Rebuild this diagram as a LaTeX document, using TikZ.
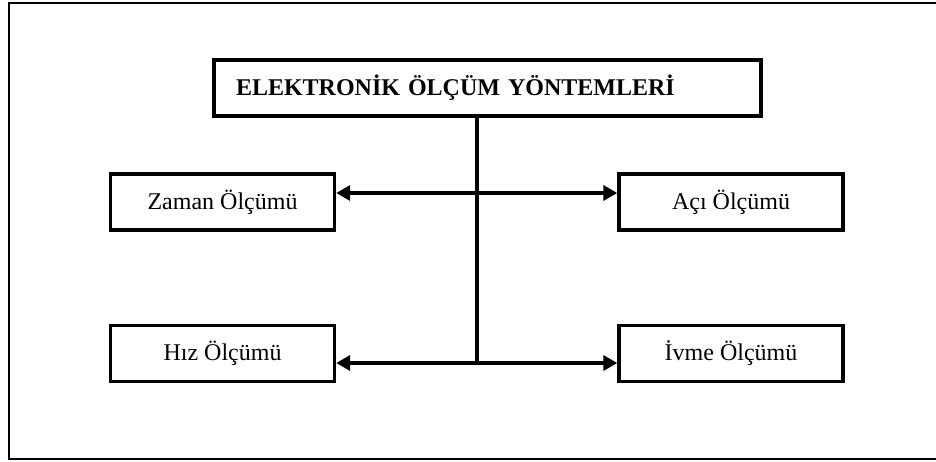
\documentclass[tikz,border=0pt]{standalone}
\usepackage{fontspec}
\setmainfont{Liberation Serif}
\usetikzlibrary{positioning,arrows.meta}

\begin{document}
\begin{tikzpicture}[x=1pt, y=-1pt, >={Triangle[length=14pt,width=15pt]},
    method/.style={draw, line width=3.4pt, minimum width=224pt, minimum height=56pt,
      inner sep=0pt, font=\fontsize{24}{28}\selectfont},
    header/.style={draw, line width=4.4pt, minimum height=56pt, inner xsep=22pt,
      text width=503pt, align=left, font=\fontsize{24}{28}\selectfont\bfseries},
    link/.style={line width=3.4pt}]
        \useasboundingbox (0,0) rectangle (936,462);
        % outer frame, right side runs off the page
        \draw[line width=2pt] (8.5,3.5) rectangle (960,459);
        \node[header] (title) at (487.5,88) {ELEKTRONİK ÖLÇÜM YÖNTEMLERİ};
        \node[method] (zaman) at (222.5,202) {Zaman Ölçümü};
        \node[method] (aci) at (731,202) {Açı Ölçümü};
        \node[method] (hiz) at (222.5,353.5) {Hız Ölçümü};
        \node[method] (ivme) at (731,353.5) {İvme Ölçümü};
        \coordinate (upper) at (477,193);
        \coordinate (lower) at (477,363);
        \draw[link] (title.south -| lower) -- (lower);
        \draw[link, <->] (zaman.east |- upper) -- (aci.west |- upper);
        \draw[link, <->] (hiz.east |- lower) -- (ivme.west |- lower);
      \end{tikzpicture}
\end{document}
